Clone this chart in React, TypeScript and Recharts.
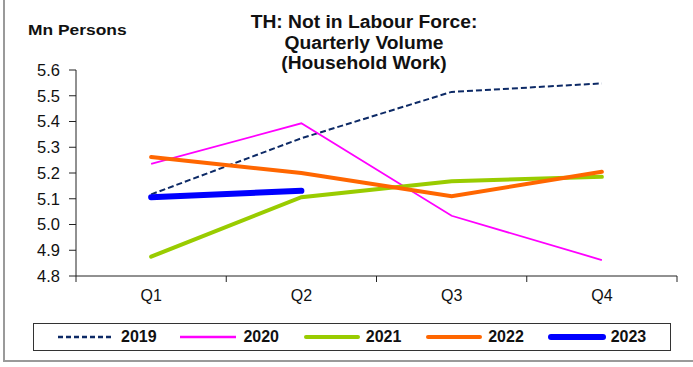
import { LineChart, Line, XAxis, YAxis, Legend } from 'recharts';

const QUARTERS = ['Q1', 'Q2', 'Q3', 'Q4'];
const Y2019 = [5.117, 5.335, 5.515, 5.548];
const Y2020 = [5.235, 5.393, 5.034, 4.862];
const Y2021 = [4.875, 5.106, 5.168, 5.185];
const Y2022 = [5.262, 5.2, 5.11, 5.205];
const Y2023 = [5.106, 5.131, null, null];
const Y_TICKS = [4.8, 4.9, 5.0, 5.1, 5.2, 5.3, 5.4, 5.5, 5.6];

const SERIES = [
  { key: 'y2019', name: '2019', color: '#0d2a66', width: 2, dash: '6 3', legendDash: '5 3' },
  { key: 'y2020', name: '2020', color: '#ff00ff', width: 1.8 },
  { key: 'y2021', name: '2021', color: '#99cc00', width: 4 },
  { key: 'y2022', name: '2022', color: '#ff6600', width: 4 },
  { key: 'y2023', name: '2023', color: '#0000ff', width: 6 },
];

const data = QUARTERS.map((q, i) => ({
  q,
  y2019: Y2019[i],
  y2020: Y2020[i],
  y2021: Y2021[i],
  y2022: Y2022[i],
  y2023: Y2023[i],
}));

const W = 693;
const H = 367;
const MARGIN = { top: 70, right: 16, bottom: 61, left: 0 };
const Y_AXIS_W = 76;
const X_TICK_SIZE = 6;
const X_TICK_MARGIN = 8;
const FONT = '"Liberation Sans", Arial, sans-serif';
const AXIS = '#222';

const halfBand = (W - MARGIN.left - Y_AXIS_W - MARGIN.right) / QUARTERS.length / 2;

// Excel style: tick marks sit between categories, labels in the middle
function QuarterTick(props: any) {
  const { x, y, payload, index } = props;
  const axisY = y - X_TICK_SIZE - X_TICK_MARGIN;
  const last = index === QUARTERS.length - 1;
  return (
    <g>
      <line x1={x - halfBand} x2={x - halfBand} y1={axisY} y2={axisY + X_TICK_SIZE} stroke={AXIS} />
      {last && <line x1={x + halfBand} x2={x + halfBand} y1={axisY} y2={axisY + X_TICK_SIZE} stroke={AXIS} />}
      <text x={x} y={y} dy="0.71em" textAnchor="middle" fill="#111" fontSize={16} fontFamily={FONT}>
        {payload.value}
      </text>
    </g>
  );
}

function LegendBox() {
  return (
    <div
      style={{
        boxSizing: 'border-box',
        width: 638,
        height: 28,
        border: '1px solid #333',
        background: '#fff',
        display: 'flex',
        alignItems: 'center',
        paddingLeft: 24,
        fontFamily: FONT,
        fontWeight: 'bold',
        fontSize: 16,
        color: '#111',
      }}
    >
      {SERIES.map((s) => (
        <div key={s.key} style={{ width: 124, display: 'flex', alignItems: 'center' }}>
          <svg width={58} height={10} style={{ marginRight: 5 }}>
            <line
              x1={s.width > 3 ? 3 : 0}
              x2={s.width > 3 ? 55 : 56}
              y1={5}
              y2={5}
              stroke={s.color}
              strokeWidth={s.width > 3 ? s.width : 2.5}
              strokeDasharray={s.legendDash}
              strokeLinecap={s.width > 3 ? 'round' : 'butt'}
            />
          </svg>
          <span>{s.name}</span>
        </div>
      ))}
    </div>
  );
}

export default function App() {
  return (
    <div style={{ position: 'absolute', left: 0, top: 0, width: W, height: H, background: '#fff', overflow: 'hidden' }}>
      <div
        style={{
          position: 'absolute',
          left: 164,
          top: 12,
          width: 400,
          textAlign: 'center',
          fontFamily: FONT,
          fontWeight: 'bold',
          fontSize: 17.5,
          lineHeight: '20.5px',
          color: '#111',
          transform: 'scaleX(1.1)',
          transformOrigin: 'center',
        }}
      >
        TH: Not in Labour Force:
        <br />
        Quarterly Volume
        <br />
        (Household Work)
      </div>
      <div
        style={{
          position: 'absolute',
          left: 28,
          top: 22,
          fontFamily: FONT,
          fontWeight: 'bold',
          fontSize: 14.5,
          lineHeight: '16px',
          color: '#111',
          transform: 'scaleX(1.2)',
          transformOrigin: 'left center',
          whiteSpace: 'nowrap',
        }}
      >
        Mn Persons
      </div>
      <LineChart width={W} height={H} data={data} margin={MARGIN} style={{ position: 'absolute', left: 0, top: 0 }}>
        <XAxis
          dataKey="q"
          scale="band"
          height={30}
          stroke={AXIS}
          tickLine={false}
          tickSize={X_TICK_SIZE}
          tickMargin={X_TICK_MARGIN}
          tick={<QuarterTick />}
          interval={0}
        />
        <YAxis
          width={Y_AXIS_W}
          domain={[4.8, 5.6]}
          ticks={Y_TICKS}
          stroke={AXIS}
          tickSize={7}
          tickMargin={9}
          tickFormatter={(v: number) => v.toFixed(1)}
          tick={{ fill: '#111', fontSize: 16.5, fontFamily: FONT }}
          allowDataOverflow
        />
        {SERIES.map((s) => (
          <Line
            key={s.key}
            dataKey={s.key}
            name={s.name}
            stroke={s.color}
            strokeWidth={s.width}
            strokeDasharray={s.dash}
            strokeLinecap={s.width > 3 ? 'round' : 'butt'}
            dot={false}
            activeDot={false}
            isAnimationActive={false}
          />
        ))}
        <Legend
          verticalAlign="middle"
          layout="horizontal"
          content={() => <LegendBox />}
          wrapperStyle={{ left: 33, top: 323, width: 638, height: 28 }}
        />
      </LineChart>
      <div
        style={{
          position: 'absolute',
          left: 3,
          top: -4,
          width: 720,
          height: 364,
          borderLeft: '2px solid #9a9a9a',
          borderBottom: '2px solid #9a9a9a',
          pointerEvents: 'none',
        }}
      />
    </div>
  );
}
